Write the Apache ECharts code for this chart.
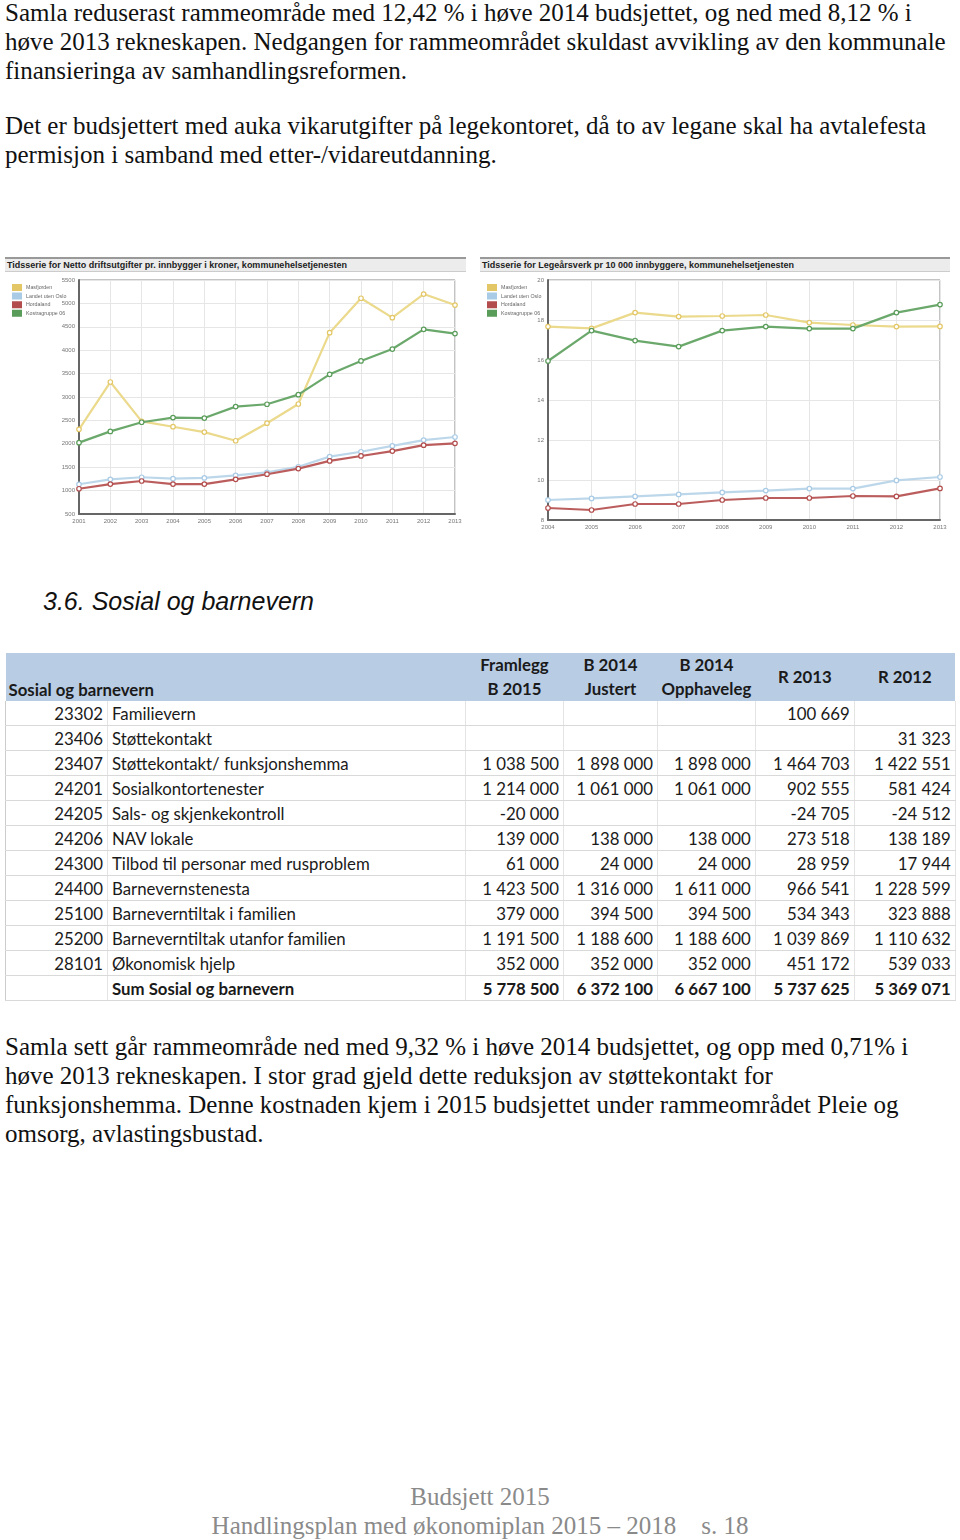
<!DOCTYPE html>
<html><head><meta charset="utf-8">
<script src="https://cdn.jsdelivr.net/npm/echarts@6/dist/echarts.min.js"></script>
<style>
html,body{margin:0;padding:0;background:#fff;}
body{width:960px;height:1540px;position:relative;overflow:hidden;}
.p{position:absolute;left:5px;font-family:"Liberation Serif","Times New Roman",serif;font-size:25px;line-height:29px;color:#111;white-space:nowrap;}
.h{position:absolute;left:43px;top:587px;font-family:"Liberation Sans",Arial,sans-serif;font-style:italic;font-size:25px;color:#111;white-space:nowrap;}
.tb{position:absolute;height:12px;background:#ececec;border-top:2px solid #999;border-bottom:1px solid #ccc;font-family:"Liberation Sans",Arial,sans-serif;font-weight:bold;font-size:9px;line-height:12px;color:#222;padding-left:2px;box-sizing:content-box;white-space:nowrap;overflow:hidden;}
.ch{position:absolute;}
table{position:absolute;left:5px;top:653px;border-collapse:collapse;font-family:Lato,"Noto Sans",sans-serif;font-size:16.8px;color:#1a1a1a;table-layout:fixed;}
td{height:24px;padding:2px 4px 0 4px;border-bottom:1px solid #d9d9d9;border-right:1px solid #e4e4e4;white-space:nowrap;line-height:22px;box-sizing:border-box;}
td.n{text-align:right;}
tr.hd td{background:#b8cce4;height:48px;font-weight:bold;text-align:center;line-height:24px;border-right:none;border-bottom:none;padding-top:0;}
tr.sum td{font-weight:bold;}
.foot{position:absolute;left:0;width:960px;text-align:center;font-family:"Liberation Serif","Times New Roman",serif;font-size:25px;color:#8a8a8a;white-space:nowrap;}
</style></head>
<body>
<div class="p" style="top:-2px">Samla reduserast rammeområde med 12,42 % i høve 2014 budsjettet, og ned med 8,12 % i<br>høve 2013 rekneskapen. Nedgangen for rammeområdet skuldast avvikling av den kommunale<br>finansieringa av samhandlingsreformen.</div>
<div class="p" style="top:111px">Det er budsjettert med auka vikarutgifter på legekontoret, då to av legane skal ha avtalefesta<br>permisjon i samband med etter-/vidareutdanning.</div>

<div class="tb" style="left:5px;top:257px;width:459px;">Tidsserie for Netto driftsutgifter pr. innbygger i kroner, kommunehelsetjenesten</div>
<div class="tb" style="left:480px;top:257px;width:468px;">Tidsserie for Legeårsverk pr 10 000 innbyggere, kommunehelsetjenesten</div>
<div id="c1" class="ch" style="left:5px;top:272px;width:461px;height:258px;"></div>
<div id="c2" class="ch" style="left:480px;top:272px;width:470px;height:262px;"></div>

<div class="h">3.6.&nbsp;Sosial og barnevern</div>

<table id="tbl"></table>

<div class="p" style="top:1032px">Samla sett går rammeområde ned med 9,32 % i høve 2014 budsjettet, og opp med 0,71% i<br>høve 2013 rekneskapen. I stor grad gjeld dette reduksjon av støttekontakt for<br>funksjonshemma. Denne kostnaden kjem i 2015 budsjettet under rammeområdet Pleie og<br>omsorg, avlastingsbustad.</div>

<div class="foot" style="top:1483px">Budsjett 2015</div>
<div class="foot" style="top:1512px">Handlingsplan med økonomiplan 2015 – 2018&nbsp;&nbsp;&nbsp; s. 18</div>

<script>
// ---- Chart 1: Netto driftsutgifter pr. innbygger (kr)
var years1 = ['2001','2002','2003','2004','2005','2006','2007','2008','2009','2010','2011','2012','2013'];
var masfjorden1 = [2310,3320,2480,2365,2250,2065,2440,2850,4375,5110,4695,5200,4965];
var landet1     = [1135,1240,1285,1255,1270,1325,1390,1510,1725,1830,1955,2080,2145];
var hordaland1  = [1040,1140,1205,1140,1140,1240,1350,1470,1635,1740,1845,1970,2010];
var kostra1     = [2025,2265,2460,2560,2550,2795,2845,3050,3485,3770,4025,4445,4355];

// ---- Chart 2: Legeårsverk pr 10 000 innbyggere
var years2 = ['2004','2005','2006','2007','2008','2009','2010','2011','2012','2013'];
var masfjorden2 = [17.67,17.58,18.37,18.17,18.2,18.25,17.87,17.75,17.67,17.68];
var landet2     = [9.0,9.08,9.18,9.28,9.38,9.47,9.57,9.57,9.98,10.15];
var hordaland2  = [8.6,8.5,8.8,8.8,9.0,9.1,9.1,9.2,9.18,9.58];
var kostra2     = [15.95,17.47,16.97,16.67,17.47,17.67,17.57,17.57,18.37,18.77];

var seriesNames = ['Masfjorden','Landet uten Oslo','Hordaland','Kostragruppe 06'];

// ---- Table
var tableHeaders = ['Framlegg<br>B 2015','B 2014<br>Justert','B 2014<br>Opphaveleg','R 2013','R 2012'];
var codes = ['23302','23406','23407','24201','24205','24206','24300','24400','25100','25200','28101',''];
var names = ['Familievern','Støttekontakt','Støttekontakt/ funksjonshemma','Sosialkontortenester','Sals- og skjenkekontroll','NAV lokale','Tilbod til personar med rusproblem','Barnevernstenesta','Barneverntiltak i familien','Barneverntiltak utanfor familien','Økonomisk hjelp','Sum Sosial og barnevern'];
var b2015  = ['','','1 038 500','1 214 000','-20 000','139 000','61 000','1 423 500','379 000','1 191 500','352 000','5 778 500'];
var b2014j = ['','','1 898 000','1 061 000','','138 000','24 000','1 316 000','394 500','1 188 600','352 000','6 372 100'];
var b2014o = ['','','1 898 000','1 061 000','','138 000','24 000','1 611 000','394 500','1 188 600','352 000','6 667 100'];
var r2013  = ['100 669','','1 464 703','902 555','-24 705','273 518','28 959','966 541','534 343','1 039 869','451 172','5 737 625'];
var r2012  = ['','31 323','1 422 551','581 424','-24 512','138 189','17 944','1 228 599','323 888','1 110 632','539 033','5 369 071'];

var colors = {line:['#ebd98c','#bdd7ea','#bc5d5d','#6ba86b'], item:['#e3c766','#a9cbe6','#b34d4d','#5a9c5a']};

function makeSeries(datas){
  return datas.map(function(d,i){
    return {name:seriesNames[i],type:'line',data:d,symbol:'circle',symbolSize:4.5,
      itemStyle:{color:'#fff',borderColor:colors.item[i],borderWidth:1.2},
      lineStyle:{color:colors.line[i],width:2.2},z:[3,2,2,4][i],animation:false};
  });
}
function baseOpt(cats,datas,ymin,ymax,yint,grid,legTop){
  return {
    animation:false,
    legend:{orient:'vertical',left:2,top:legTop,itemWidth:8,itemHeight:5,itemGap:1.6,icon:'rect',
      textStyle:{fontSize:5.3,lineHeight:6,color:'#666',fontFamily:'Liberation Sans, Arial'},
      data:seriesNames.map(function(n,i){return {name:n,itemStyle:{color:colors.item[i],borderColor:colors.item[i]}};})},
    grid:Object.assign({show:true,borderColor:'#888',borderWidth:1,containLabel:false},grid),
    xAxis:{type:'category',data:cats,boundaryGap:false,
      axisLine:{lineStyle:{color:'#666',width:2}},axisTick:{show:false},
      axisLabel:{fontSize:6,color:'#777',margin:4,fontFamily:'Liberation Sans, Arial'},
      splitLine:{show:true,lineStyle:{color:'#e6e6e6',width:1}}},
    yAxis:{type:'value',min:ymin,max:ymax,interval:yint,
      axisLine:{show:true,lineStyle:{color:'#666',width:2}},axisTick:{show:false},
      axisLabel:{fontSize:6,color:'#777',margin:4,fontFamily:'Liberation Sans, Arial',formatter:function(v){return String(v);}},
      splitLine:{show:true,lineStyle:{color:'#e6e6e6',width:1}}},
    series:makeSeries(datas)
  };
}
var c1 = echarts.init(document.getElementById('c1'),null,{renderer:'canvas'});
c1.setOption(baseOpt(years1,[masfjorden1,landet1,hordaland1,kostra1],500,5500,500,{left:74,top:8,right:11,bottom:16},7));
var c2 = echarts.init(document.getElementById('c2'),null,{renderer:'canvas'});
c2.setOption(baseOpt(years2,[masfjorden2,landet2,hordaland2,kostra2],8,20,2,{left:68,top:8,right:10,bottom:14},7));

// build table
var widths=[102,358,98,94,96,99,101];
var t=document.getElementById('tbl');
var cg='<colgroup>'+widths.map(function(w){return '<col style="width:'+w+'px">';}).join('')+'</colgroup>';
var h='<tr class="hd"><td colspan="2" style="text-align:left;vertical-align:bottom;padding-left:3px;line-height:22px;">Sosial og barnevern</td>'+
  tableHeaders.map(function(x){return '<td>'+x+'</td>';}).join('')+'</tr>';
var rows='';
for(var i=0;i<codes.length;i++){
  rows+='<tr'+(i===codes.length-1?' class="sum"':'')+'><td class="n" style="border-left:1px solid #ccc;">'+codes[i]+'</td><td>'+names[i]+'</td>'+
   [b2015[i],b2014j[i],b2014o[i],r2013[i],r2012[i]].map(function(v){return '<td class="n">'+v+'</td>';}).join('')+'</tr>';
}
t.innerHTML=cg+h+rows;
</script>
</body></html>
